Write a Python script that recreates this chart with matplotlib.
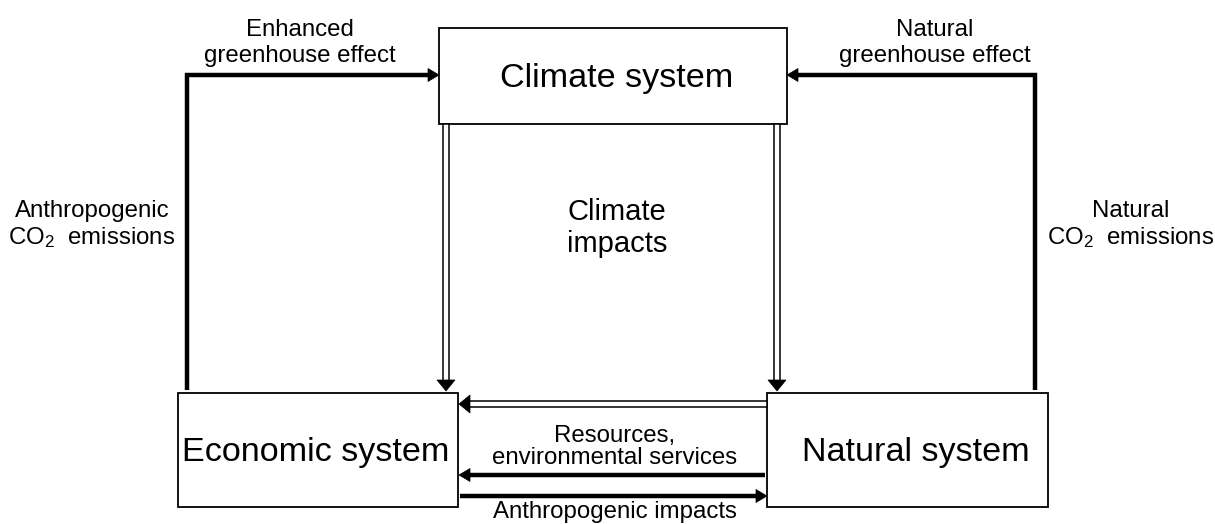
import matplotlib
matplotlib.use('Agg')
import matplotlib.pyplot as plt
from matplotlib.patches import Rectangle, Polygon

plt.rcParams['font.family'] = ['Liberation Sans', 'DejaVu Sans']
plt.rcParams['mathtext.fontset'] = 'custom'
plt.rcParams['mathtext.rm'] = 'Liberation Sans'
plt.rcParams['mathtext.it'] = 'Liberation Sans'

# boxes: name, x0, y0, x1, y1 (pixel space, y down)
box_names = ['Climate system', 'Economic system', 'Natural system']
box_x0 = [439, 178, 767]
box_y0 = [28, 393, 393]
box_x1 = [787, 458, 1048]
box_y1 = [124, 507, 507]
box_text_x = [617, 316, 916]

# thick feedback paths (vertical leg then horizontal into climate box)
loop_x = [187, 1035]
loop_ybot = [390, 390]
loop_ytop = [75, 75]
loop_tip = [439, 787]

# double-line (hollow) arrows: x0, y0 -> x1, y1
dbl_start = [(446, 124), (777, 124), (767, 404)]
dbl_end = [(446, 391), (777, 391), (459, 404)]

# thick horizontal arrows
thick_start = [(765, 475), (460, 496)]
thick_end = [(459, 475), (767, 496)]

labels = ['Enhanced\ngreenhouse effect', 'Natural\ngreenhouse effect',
          'Anthropogenic\nCO$_2$  emissions', 'Natural\nCO$_2$  emissions',
          'Climate\nimpacts', 'Resources,\nenvironmental services',
          'Anthropogenic impacts']
label_x = [300, 935, 92, 1131, 617, 615, 615]
label_y = [43, 43, 225, 225, 228, 447, 512]
label_size = [17.3, 17.3, 17.3, 17.3, 21, 17.3, 17.3]
label_spacing = [1.25, 1.25, 1.2, 1.2, 1.2, 1.0, 1.0]

fig = plt.figure(figsize=(12.15, 5.24), dpi=100)
ax = fig.add_axes([0, 0, 1, 1])
ax.set_xlim(0, 1215)
ax.set_ylim(524, 0)
ax.axis('off')

for name, x0, y0, x1, y1, tx in zip(box_names, box_x0, box_y0, box_x1, box_y1, box_text_x):
    ax.add_patch(Rectangle((x0, y0), x1 - x0, y1 - y0, fill=False, ec='black', lw=1.3, zorder=3))
    ax.text(tx, (y0 + y1) / 2 + 2, name, ha='center', va='center', fontsize=24.6, zorder=4)


def head(tip, direction, length, width, color='black'):
    dx, dy = direction
    tx, ty = tip
    bx, by = tx - dx * length, ty - dy * length
    px, py = -dy, dx
    pts = [(tx, ty), (bx + px * width / 2, by + py * width / 2), (bx - px * width / 2, by - py * width / 2)]
    ax.add_patch(Polygon(pts, closed=True, fc=color, ec=color, lw=0.5, zorder=5))


# thick feedback loops
for x, yb, yt, tip in zip(loop_x, loop_ybot, loop_ytop, loop_tip):
    d = 1 if tip > x else -1
    ax.plot([x, x, tip - d * 9], [yb, yt, yt], color='black', lw=3.2, solid_joinstyle='miter',
            solid_capstyle='butt', zorder=4)
    head((tip, yt), (d, 0), 11, 13)

# double-line hollow arrows
for (x0, y0), (x1, y1) in zip(dbl_start, dbl_end):
    if x0 == x1:
        d = 1 if y1 > y0 else -1
        w = 6
        ax.add_patch(Rectangle((x0 - w / 2, y0), w, (y1 - d * 10) - y0, fc='white', ec='black', lw=1.1, zorder=4))
        head((x1, y1), (0, d), 11, 18)
    else:
        d = 1 if x1 > x0 else -1
        h = 6
        ax.add_patch(Rectangle((x0, y0 - h / 2), (x1 - d * 10) - x0, h, fc='white', ec='black', lw=1.1, zorder=4))
        head((x1, y1), (d, 0), 11, 18)

# thick horizontal arrows
for (x0, y0), (x1, y1) in zip(thick_start, thick_end):
    d = 1 if x1 > x0 else -1
    ax.plot([x0, x1 - d * 9], [y0, y1], color='black', lw=3.2, solid_capstyle='butt', zorder=4)
    head((x1, y1), (d, 0), 11, 13)

for t, x, y, s, ls in zip(labels, label_x, label_y, label_size, label_spacing):
    ax.text(x, y, t, ha='center', va='center', fontsize=s, linespacing=ls, zorder=4)

fig.savefig('out.png', dpi=100)
